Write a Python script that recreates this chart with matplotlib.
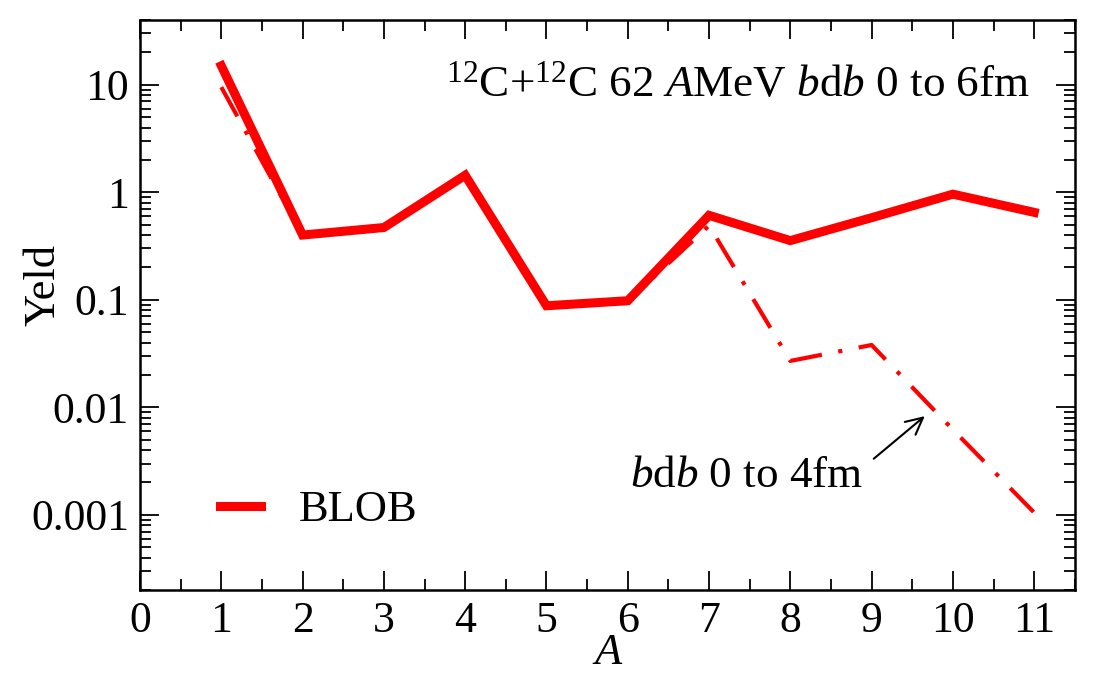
import matplotlib
matplotlib.use("Agg")
import matplotlib.pyplot as plt
from matplotlib.ticker import MultipleLocator, LogLocator, FixedLocator

plt.rcParams['font.family'] = ['Liberation Serif', 'DejaVu Serif']
plt.rcParams['mathtext.fontset'] = 'custom'
plt.rcParams['mathtext.rm'] = 'Liberation Serif'
plt.rcParams['mathtext.it'] = 'Liberation Serif:italic'

# data
mass = [1, 2, 3, 4, 5, 6, 7, 8, 9, 10, 11]
yield_6fm = [15, 0.40, 0.47, 1.44, 0.088, 0.098, 0.61, 0.355, 0.58, 0.96, 0.65]
yield_4fm = [9.5, 0.40, 0.47, 1.44, 0.088, 0.097, 0.49, 0.027, 0.038, 0.0062, 0.00105]
ytick_vals = [0.001, 0.01, 0.1, 1, 10]
ytick_labels = ["0.001", "0.01", "0.1", "1", "10"]

fig = plt.figure(figsize=(10.99, 6.75), dpi=100)
ax = fig.add_axes([0.1274, 0.1259, 0.8506, 0.8445])

ax.plot(mass, yield_4fm, color='red', lw=3, linestyle=(0, (8, 4, 1, 4)))
ax.plot(mass, yield_6fm, color='red', lw=6.5, label='BLOB', solid_joinstyle='miter')

ax.set_yscale('log')
ax.set_xlim(0, 11.5)
ax.set_ylim(2e-4, 40)

ax.xaxis.set_major_locator(MultipleLocator(1))
ax.xaxis.set_minor_locator(MultipleLocator(0.5))
ax.yaxis.set_major_locator(FixedLocator(ytick_vals))
ax.set_yticklabels(ytick_labels)
ax.yaxis.set_minor_locator(LogLocator(base=10, subs=range(2, 10), numticks=20))
ax.yaxis.set_minor_formatter(plt.NullFormatter())

ax.tick_params(which='both', direction='in', top=True, right=True, width=1.3, labelsize=31.5, color='black')
ax.tick_params(which='major', length=14, pad=8)
ax.tick_params(which='minor', length=8)
for s in ax.spines.values():
    s.set_linewidth(1.8)

ax.set_xlabel('$A$', fontsize=32, labelpad=-6)
ax.set_ylabel('Yeld', fontsize=32)
ax.yaxis.set_label_coords(-0.082, 0.535)

ax.text(0.952, 0.886, r"$^{12}$C+$^{12}$C 62 $A$MeV $b$d$b$ 0 to 6fm",
        transform=ax.transAxes, ha='right', va='center', fontsize=32.5)

ax.annotate('', xy=(9.68, 0.0086), xytext=(9.0, 0.0032),
            arrowprops=dict(arrowstyle='->', color='black', lw=1.5, mutation_scale=30))
ax.text(8.9, 0.0023, r"$b$d$b$ 0 to 4fm", ha='right', va='center', fontsize=32.5)

ax.legend(loc='center left', bbox_to_anchor=(0.0856, 0.14), frameon=False,
          fontsize=32, handlelength=0.93, handletextpad=0.84,
          borderpad=0, borderaxespad=0)

fig.savefig('out.png', dpi=100)
